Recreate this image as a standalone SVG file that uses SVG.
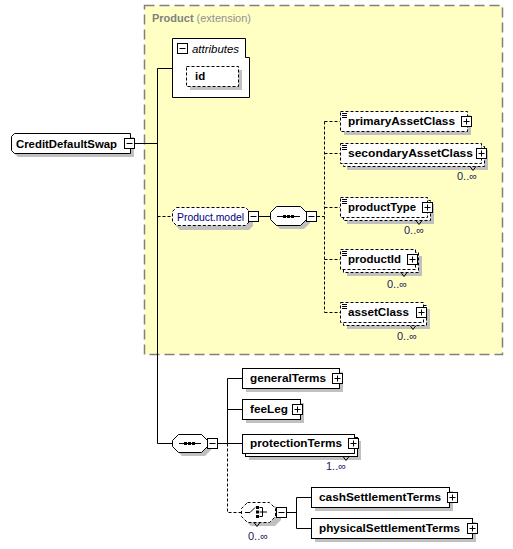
<svg xmlns="http://www.w3.org/2000/svg" width="513" height="549" viewBox="0 0 513 549">
<defs>
<style>
text{font-family:"Liberation Sans",Arial,sans-serif;font-size:11.5px;fill:#000}
.b{font-weight:bold}
.occ{fill:#202060;font-size:11px}
.sh{fill:#c0c0c0;stroke:none}
.box{fill:#fff;stroke:#000;stroke-width:1}
.dbox{fill:#fff;stroke:#000;stroke-width:1;stroke-dasharray:3,2}
.ln{stroke:#000;stroke-width:1;fill:none}
.dl{stroke:#000;stroke-width:1;fill:none;stroke-dasharray:3,2}
.btn{fill:#fff;stroke:#000;stroke-width:1}
</style>
<g id="minus"><rect class="btn" x="0.5" y="0.5" width="10" height="10"/><path class="ln" d="M2.5,5.5H8.5"/></g>
<g id="plus"><rect class="btn" x="0.5" y="0.5" width="10" height="10"/><path class="ln" d="M2.5,5.5H8.5M5.5,2.5V8.5"/></g>
<g id="lines"><path class="ln" d="M0,0.5H5M0,2.5H5M0,4.5H5"/></g>
</defs>

<g id="product-extension">
<rect x="144.5" y="5.5" width="358" height="349" fill="#ffffc4" stroke="#808080" stroke-width="1.5" stroke-dasharray="10,5"/>
<text x="152" y="22" style="fill:#808080" textLength="99" lengthAdjust="spacingAndGlyphs"><tspan class="b">Product</tspan><tspan style="fill:#909090"> (extension)</tspan></text>
</g>

<g id="connectors">
<path class="ln" d="M135,143.5H157.5M157.5,68.5V443.5M157.5,68.5H172M157.5,443.5H172"/>
<path class="dl" d="M157.5,216.5H172"/>
<path class="ln" d="M259,216.5H270"/>
<path class="dl" d="M317,216.5H324.5M324.5,121.5V312.5M324.5,121.5H340M324.5,153.5H340M324.5,207.5H340M324.5,259.5H340M324.5,312.5H340"/>
<path class="ln" d="M218,443.5H227.5M227.5,378.5V443.5M227.5,378.5H242M227.5,409.5H242M227.5,443.5H242"/>
<path class="dl" d="M227.5,443.5V512.5H241"/>
<path class="ln" d="M287,512.5H296.5M296.5,497.5V528.5M296.5,497.5H311M296.5,528.5H311"/>
</g>

<g id="CreditDefaultSwap">
<path class="sh" d="M18,137H134V157H18L15,154V140Z"/>
<path class="box" d="M14.5,133.5H130.5V153.5H14.5L11.5,150.5V136.5Z"/>
<text class="b" x="16" y="148" textLength="101" lengthAdjust="spacingAndGlyphs">CreditDefaultSwap</text>
<use href="#minus" x="124" y="138"/>
</g>

<g id="attributes">
<path class="box" d="M172.5,38.5H245.5V57.5H249.5V97.5H172.5Z"/>
<use href="#minus" x="177" y="43"/>
<text x="192" y="53" font-style="italic" textLength="47" lengthAdjust="spacingAndGlyphs">attributes</text>
</g>

<g id="id">
<rect class="sh" x="190" y="70" width="52" height="20"/>
<rect class="dbox" x="186.5" y="66.5" width="52" height="20"/>
<text class="b" x="195" y="80">id</text>
</g>

<g id="Product.model">
<path class="sh" d="M180,211H249L253,215V226L249,230H180L176,226V215Z"/>
<path class="dbox" d="M176.5,207.5H245.5L249.5,211.5V221.5L245.5,225.5H176.5L172.5,221.5V211.5Z"/>
<text x="177" y="221" style="fill:#000080" textLength="67" lengthAdjust="spacingAndGlyphs">Product.model</text>
<use href="#minus" x="248" y="211"/>
</g>

<g id="sequence1">
<path class="sh" d="M280,211H304L310,217V223L304,229H280L274,223V217Z"/>
<path class="box" d="M276.5,206.5H300.5L306.5,212.5V219.5L300.5,225.5H276.5L270.5,219.5V212.5Z"/>
<path class="ln" d="M277,216.5H300"/>
<rect x="283" y="215" width="3" height="3" fill="#000"/>
<rect x="287" y="215" width="3" height="3" fill="#000"/>
<rect x="291" y="215" width="3" height="3" fill="#000"/>
<use href="#minus" x="306" y="211"/>
</g>

<g id="primaryAssetClass">
<rect class="sh" x="344" y="115" width="127" height="20"/>
<rect class="dbox" x="340.5" y="111.5" width="127" height="20"/>
<use href="#lines" x="342" y="113"/>
<text class="b" x="348" y="125" textLength="107" lengthAdjust="spacingAndGlyphs">primaryAssetClass</text>
<use href="#plus" x="461" y="116"/>
</g>

<g id="secondaryAssetClass">
<rect class="sh" x="347" y="150" width="141" height="20"/>
<rect class="dbox" x="343.5" y="146.5" width="141" height="20"/>
<rect class="dbox" x="340.5" y="143.5" width="141" height="20"/>
<use href="#lines" x="342" y="145"/>
<text class="b" x="348" y="157" textLength="125" lengthAdjust="spacingAndGlyphs">secondaryAssetClass</text>
<use href="#plus" x="476" y="148"/>
<path class="ln" d="M470,166.5L473,170.5L476,166.5" stroke-width="0.8"/>
<text class="occ" x="457" y="180">0..∞</text>
</g>

<g id="productType">
<rect class="sh" x="347" y="204" width="87" height="20"/>
<rect class="dbox" x="343.5" y="200.5" width="87" height="20"/>
<rect class="dbox" x="340.5" y="197.5" width="87" height="20"/>
<use href="#lines" x="342" y="199"/>
<text class="b" x="348" y="211" textLength="68" lengthAdjust="spacingAndGlyphs">productType</text>
<use href="#plus" x="422" y="202"/>
<path class="ln" d="M416,220.5L419,224.5L422,220.5" stroke-width="0.8"/>
<text class="occ" x="404" y="234">0..∞</text>
</g>

<g id="productId">
<rect class="sh" x="347" y="256" width="75" height="20"/>
<rect class="dbox" x="343.5" y="252.5" width="75" height="20"/>
<rect class="dbox" x="340.5" y="249.5" width="75" height="20"/>
<use href="#lines" x="342" y="251"/>
<text class="b" x="348" y="263" textLength="53" lengthAdjust="spacingAndGlyphs">productId</text>
<use href="#plus" x="407" y="254"/>
<path class="ln" d="M401,272.5L404,276.5L407,272.5" stroke-width="0.8"/>
<text class="occ" x="387" y="288">0..∞</text>
</g>

<g id="assetClass">
<rect class="sh" x="347" y="309" width="83" height="20"/>
<rect class="dbox" x="343.5" y="305.5" width="83" height="20"/>
<rect class="dbox" x="340.5" y="302.5" width="83" height="20"/>
<use href="#lines" x="342" y="304"/>
<text class="b" x="348" y="316" textLength="61" lengthAdjust="spacingAndGlyphs">assetClass</text>
<use href="#plus" x="416" y="307"/>
<path class="ln" d="M410,325.5L413,329.5L416,325.5" stroke-width="0.8"/>
<text class="occ" x="397" y="340">0..∞</text>
</g>

<g id="sequence2">
<path class="sh" d="M182,438H205L211,444V450L205,456H182L176,450V444Z"/>
<path class="box" d="M178.5,434.5H201.5L207.5,440.5V446.5L201.5,452.5H178.5L172.5,446.5V440.5Z"/>
<path class="ln" d="M179,443.5H201"/>
<rect x="184" y="442" width="3" height="3" fill="#000"/>
<rect x="188" y="442" width="3" height="3" fill="#000"/>
<rect x="192" y="442" width="3" height="3" fill="#000"/>
<use href="#minus" x="207" y="438"/>
</g>

<g id="generalTerms">
<rect class="sh" x="246" y="372" width="97" height="20"/>
<rect class="box" x="242.5" y="368.5" width="97" height="20"/>
<text class="b" x="250" y="382" textLength="76" lengthAdjust="spacingAndGlyphs">generalTerms</text>
<use href="#plus" x="332" y="373"/>
</g>

<g id="feeLeg">
<rect class="sh" x="246" y="403" width="58" height="20"/>
<rect class="box" x="242.5" y="399.5" width="58" height="20"/>
<text class="b" x="250" y="413" textLength="38" lengthAdjust="spacingAndGlyphs">feeLeg</text>
<use href="#plus" x="292" y="404"/>
</g>

<g id="protectionTerms">
<rect class="sh" x="249" y="441" width="112" height="19"/>
<rect class="box" x="245.5" y="437.5" width="112" height="19"/>
<rect class="box" x="242.5" y="434.5" width="112" height="19"/>
<text class="b" x="250" y="447" textLength="92" lengthAdjust="spacingAndGlyphs">protectionTerms</text>
<use href="#plus" x="348" y="438"/>
<path class="ln" d="M343,456.5L346,460.5L349,456.5" stroke-width="0.8"/>
<text class="occ" x="326" y="470">1..∞</text>
</g>

<g id="choice">
<path class="sh" d="M251,506H275L281,512V520L275,526H251L245,520V512Z"/>
<path class="dbox" d="M247.5,502.5H269.5L275.5,508.5V516.5L269.5,522.5H247.5L241.5,516.5V508.5Z"/>
<path class="ln" d="M245,512.5H250L255,507.5"/>
<rect x="256" y="506" width="3" height="3" fill="#000"/>
<rect x="256" y="510.5" width="3" height="3" fill="#000"/>
<rect x="256" y="515" width="3" height="3" fill="#000"/>
<path class="ln" d="M259.5,507.5H262.5V516.5H259.5M259.5,512H267"/>
<use href="#minus" x="276" y="507"/>
<path class="ln" d="M254,522.5L257,526.5L260,522.5" stroke-width="0.8"/>
<text class="occ" x="248" y="540">0..∞</text>
</g>

<g id="cashSettlementTerms">
<rect class="sh" x="315" y="491" width="138" height="20"/>
<rect class="box" x="311.5" y="487.5" width="138" height="20"/>
<text class="b" x="319" y="501" textLength="122" lengthAdjust="spacingAndGlyphs">cashSettlementTerms</text>
<use href="#plus" x="447" y="492"/>
</g>

<g id="physicalSettlementTerms">
<rect class="sh" x="315" y="522" width="161" height="20"/>
<rect class="box" x="311.5" y="518.5" width="161" height="20"/>
<text class="b" x="319" y="532" textLength="141" lengthAdjust="spacingAndGlyphs">physicalSettlementTerms</text>
<use href="#plus" x="467" y="523"/>
</g>
</svg>
